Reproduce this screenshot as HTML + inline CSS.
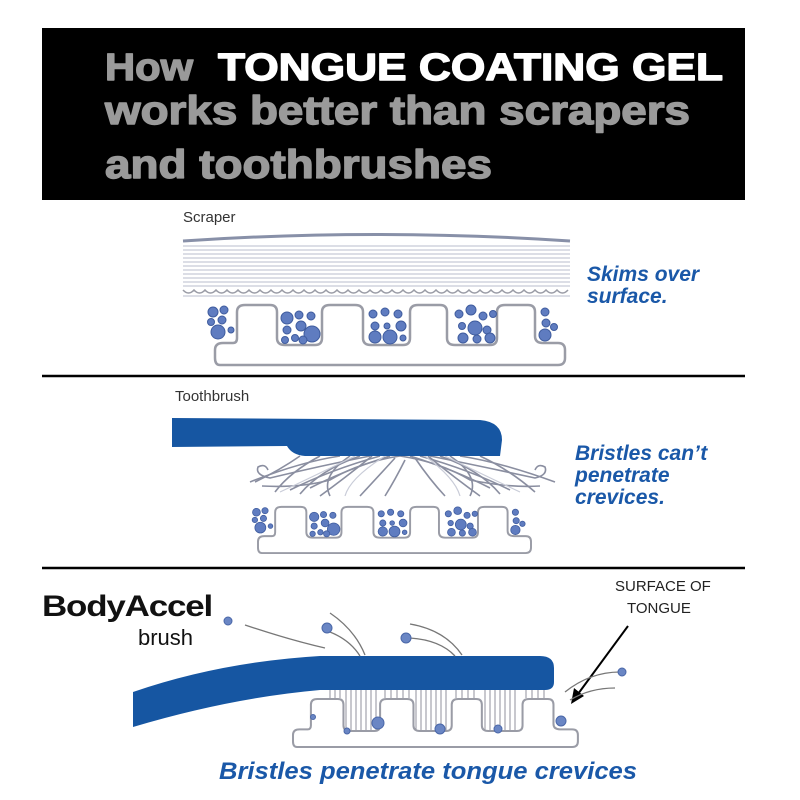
<!DOCTYPE html>
<html><head><meta charset="utf-8"><style>html,body{margin:0;padding:0;background:#fff}svg{display:block}</style></head>
<body>
<svg width="800" height="800" viewBox="0 0 800 800" xmlns="http://www.w3.org/2000/svg" font-family="Liberation Sans, sans-serif">
<defs>
<path id="tg" d="M5,65 Q0,65 0,58 L0,50 Q0,43 8,43 L18,43 Q22,43 22,38 L22,12 Q22,5 30,5 L55,5 Q62,5 62,12 L62,38 Q62,45 70,45 L100,45 Q107,45 107,38 L107,12 Q107,5 115,5 L140,5 Q148,5 148,12 L148,38 Q148,45 156,45 L188,45 Q195,45 195,38 L195,12 Q195,5 203,5 L225,5 Q232,5 232,12 L232,38 Q232,45 240,45 L275,45 Q282,45 282,38 L282,12 Q282,5 290,5 L313,5 Q320,5 320,12 L320,36 Q320,43 328,43 L343,43 Q350,43 350,50 L350,58 Q350,65 343,65 Z" fill="#fff" stroke="#9a9ca6" stroke-width="2.5"/>
<g id="dots" fill="#5f7cc0" stroke="#3f5c9e" stroke-width="1">
<circle cx="-2" cy="12" r="5"/><circle cx="9" cy="10" r="4"/><circle cx="-4" cy="22" r="3.5"/><circle cx="7" cy="20" r="4"/><circle cx="3" cy="32" r="7"/><circle cx="16" cy="30" r="3"/>
<circle cx="72" cy="18" r="6"/><circle cx="84" cy="15" r="4"/><circle cx="96" cy="16" r="4"/><circle cx="72" cy="30" r="4"/><circle cx="86" cy="26" r="5"/><circle cx="97" cy="34" r="8"/><circle cx="80" cy="38" r="3.5"/><circle cx="70" cy="40" r="3.5"/><circle cx="88" cy="40" r="4"/>
<circle cx="158" cy="14" r="4"/><circle cx="170" cy="12" r="4"/><circle cx="183" cy="14" r="4"/><circle cx="160" cy="26" r="4"/><circle cx="172" cy="26" r="3"/><circle cx="186" cy="26" r="5"/><circle cx="160" cy="37" r="6"/><circle cx="175" cy="37" r="7"/><circle cx="188" cy="38" r="3"/>
<circle cx="244" cy="14" r="4"/><circle cx="256" cy="10" r="5"/><circle cx="268" cy="16" r="4"/><circle cx="278" cy="14" r="3.5"/><circle cx="247" cy="26" r="3.5"/><circle cx="260" cy="28" r="7"/><circle cx="272" cy="30" r="4"/><circle cx="248" cy="38" r="5"/><circle cx="262" cy="39" r="4"/><circle cx="275" cy="38" r="5"/>
<circle cx="330" cy="12" r="4"/><circle cx="331" cy="23" r="4"/><circle cx="339" cy="27" r="3.5"/><circle cx="330" cy="35" r="6"/>
</g>
</defs>
<rect x="42" y="28" width="703" height="172" fill="#000"/>
<g font-weight="bold" stroke-width="1.4" stroke-linejoin="round">
<text x="105" y="80" font-size="38" fill="#9a9a9a" stroke="#9a9a9a" textLength="88" lengthAdjust="spacingAndGlyphs">How</text>
<text x="218" y="80" font-size="38" fill="#fff" stroke="#fff" textLength="505" lengthAdjust="spacingAndGlyphs">TONGUE COATING GEL</text>
<text x="105" y="124" font-size="40" fill="#9a9a9a" stroke="#9a9a9a" textLength="585" lengthAdjust="spacingAndGlyphs">works better than scrapers</text>
<text x="105" y="178" font-size="40" fill="#9a9a9a" stroke="#9a9a9a" textLength="387" lengthAdjust="spacingAndGlyphs">and toothbrushes</text>
</g>

<line x1="42" y1="376" x2="745" y2="376" stroke="#000" stroke-width="2.5"/>
<line x1="42" y1="568" x2="745" y2="568" stroke="#000" stroke-width="2.5"/>

<!-- Scraper -->
<text x="183" y="222" font-size="15" fill="#333">Scraper</text>
<path d="M183,241 Q376,228 570,241" fill="none" stroke="#8890a8" stroke-width="3"/>
<g stroke="#b9bdcc" stroke-width="1">
<line x1="183" y1="246" x2="570" y2="246"/><line x1="183" y1="250" x2="570" y2="250"/><line x1="183" y1="254" x2="570" y2="254"/><line x1="183" y1="258" x2="570" y2="258"/><line x1="183" y1="262" x2="570" y2="262"/><line x1="183" y1="266" x2="570" y2="266"/><line x1="183" y1="270" x2="570" y2="270"/><line x1="183" y1="274" x2="570" y2="274"/><line x1="183" y1="278" x2="570" y2="278"/><line x1="183" y1="282" x2="570" y2="282"/><line x1="183" y1="286" x2="570" y2="286"/><line x1="183" y1="296" x2="570" y2="296"/>
</g>
<path d="M183,290 q5.5,6 11,0 q5.5,6 11,0 q5.5,6 11,0 q5.5,6 11,0 q5.5,6 11,0 q5.5,6 11,0 q5.5,6 11,0 q5.5,6 11,0 q5.5,6 11,0 q5.5,6 11,0 q5.5,6 11,0 q5.5,6 11,0 q5.5,6 11,0 q5.5,6 11,0 q5.5,6 11,0 q5.5,6 11,0 q5.5,6 11,0 q5.5,6 11,0 q5.5,6 11,0 q5.5,6 11,0 q5.5,6 11,0 q5.5,6 11,0 q5.5,6 11,0 q5.5,6 11,0 q5.5,6 11,0 q5.5,6 11,0 q5.5,6 11,0 q5.5,6 11,0 q5.5,6 11,0 q5.5,6 11,0 q5.5,6 11,0 q5.5,6 11,0 q5.5,6 11,0 q5.5,6 11,0 q5.5,6 11,0" fill="none" stroke="#9a9ca6" stroke-width="1.5"/>
<g transform="translate(215,300)"><use href="#tg"/><use href="#dots"/></g>
<text x="587" y="281" font-size="21" font-weight="bold" font-style="italic" fill="#1a58a8">Skims over</text>
<text x="587" y="303" font-size="21" font-weight="bold" font-style="italic" fill="#1a58a8">surface.</text>

<!-- Toothbrush -->
<text x="175" y="401" font-size="15" fill="#333">Toothbrush</text>
<g fill="none" stroke="#8a8ea0" stroke-width="1.6">
<path d="M400,456 Q360,462 330,480 Q300,488 262,486"/><path d="M390,456 Q345,470 310,488"/><path d="M380,456 Q330,470 290,490"/><path d="M370,456 Q320,466 270,478 Q255,475 258,467 Q265,463 268,470"/><path d="M360,456 Q320,470 300,494"/><path d="M350,456 Q320,476 330,496"/><path d="M395,458 Q375,480 360,496"/><path d="M405,460 Q395,480 385,496"/><path d="M340,456 Q300,462 250,482"/>
<path d="M300,456 Q280,470 255,482"/><path d="M320,456 Q290,472 275,492"/><path d="M372,456 Q345,478 320,496"/>
<path d="M400,456 Q440,462 470,480 Q510,488 540,486"/><path d="M410,456 Q455,470 490,488"/><path d="M420,456 Q470,470 510,490"/><path d="M430,456 Q480,466 535,478 Q548,475 545,467 Q538,463 535,470"/><path d="M440,456 Q480,470 500,494"/><path d="M450,456 Q480,476 470,496"/><path d="M415,458 Q430,480 445,496"/><path d="M460,456 Q500,462 555,482"/>
<path d="M480,456 Q510,470 535,492"/><path d="M428,456 Q455,478 480,496"/>
</g>
<g stroke="#c9ccd8" stroke-width="1.2" fill="none"><path d="M385,456 Q350,478 345,496"/><path d="M425,456 Q455,478 460,496"/><path d="M355,456 Q310,478 280,492"/><path d="M445,456 Q490,478 520,492"/></g>
<path d="M172,418 L480,420 Q502,422 502,440 L500,456 L305,456 Q292,455 287,446 L172,447 Z" fill="#1656a2"/>
<g transform="translate(258,503) scale(0.78,0.77)"><use href="#tg"/><use href="#dots"/></g>
<text x="575" y="460" font-size="21" font-weight="bold" font-style="italic" fill="#1a58a8">Bristles can’t</text>
<text x="575" y="482" font-size="21" font-weight="bold" font-style="italic" fill="#1a58a8">penetrate</text>
<text x="575" y="504" font-size="21" font-weight="bold" font-style="italic" fill="#1a58a8">crevices.</text>

<!-- BodyAccel -->
<text x="42" y="616" font-size="30" font-weight="bold" fill="#111" textLength="170" lengthAdjust="spacingAndGlyphs" letter-spacing="-1">BodyAccel</text>
<text x="138" y="645" font-size="22" fill="#111">brush</text>
<text x="615" y="591" font-size="15" fill="#222">SURFACE OF</text>
<text x="627" y="613" font-size="15" fill="#222">TONGUE</text>
<line x1="628" y1="626" x2="578" y2="694" stroke="#000" stroke-width="2"/>
<path d="M571,704 L574,688 L584,696 Z" fill="#000"/>
<g transform="translate(293,695) scale(0.814,0.8)"><use href="#tg"/></g>
<g stroke="#9a9ca6" stroke-width="1.1">
<line x1="330" y1="690" x2="330" y2="698"/><line x1="335" y1="690" x2="335" y2="698"/><line x1="340" y1="690" x2="340" y2="698"/>
<line x1="346" y1="690" x2="346" y2="731"/><line x1="351" y1="690" x2="351" y2="731"/><line x1="356" y1="690" x2="356" y2="731"/><line x1="361" y1="690" x2="361" y2="731"/><line x1="366" y1="690" x2="366" y2="731"/><line x1="371" y1="690" x2="371" y2="731"/><line x1="376" y1="690" x2="376" y2="731"/>
<line x1="385" y1="690" x2="385" y2="698"/><line x1="391" y1="690" x2="391" y2="698"/><line x1="397" y1="690" x2="397" y2="698"/><line x1="403" y1="690" x2="403" y2="698"/><line x1="409" y1="690" x2="409" y2="698"/>
<line x1="416" y1="690" x2="416" y2="731"/><line x1="421" y1="690" x2="421" y2="731"/><line x1="426" y1="690" x2="426" y2="731"/><line x1="431" y1="690" x2="431" y2="731"/><line x1="436" y1="690" x2="436" y2="731"/><line x1="441" y1="690" x2="441" y2="731"/><line x1="446" y1="690" x2="446" y2="731"/>
<line x1="456" y1="690" x2="456" y2="698"/><line x1="462" y1="690" x2="462" y2="698"/><line x1="468" y1="690" x2="468" y2="698"/><line x1="474" y1="690" x2="474" y2="698"/>
<line x1="485" y1="690" x2="485" y2="731"/><line x1="490" y1="690" x2="490" y2="731"/><line x1="495" y1="690" x2="495" y2="731"/><line x1="500" y1="690" x2="500" y2="731"/><line x1="505" y1="690" x2="505" y2="731"/><line x1="510" y1="690" x2="510" y2="731"/><line x1="515" y1="690" x2="515" y2="731"/>
<line x1="526" y1="690" x2="526" y2="698"/><line x1="532" y1="690" x2="532" y2="698"/><line x1="538" y1="690" x2="538" y2="698"/><line x1="544" y1="690" x2="544" y2="698"/>
</g>
<path d="M133,692 Q220,662 320,656 L540,656 Q554,656 554,668 L554,682 Q554,690 545,690 L320,690 Q230,698 133,727 Z" fill="#1656a2"/>
<g fill="none" stroke="#777" stroke-width="1.3">
<path d="M245,625 Q290,640 325,648"/><path d="M330,632 Q350,640 360,656"/><path d="M330,613 Q355,630 365,655"/><path d="M410,638 Q440,640 455,656"/><path d="M410,624 Q445,630 462,655"/><path d="M620,672 Q590,672 565,692"/><path d="M615,688 Q590,688 570,700"/>
</g>
<g fill="#6a86c4" stroke="#4a67a8" stroke-width="1">
<circle cx="228" cy="621" r="4"/><circle cx="327" cy="628" r="5"/><circle cx="406" cy="638" r="5"/><circle cx="622" cy="672" r="4"/>
<circle cx="347" cy="731" r="3"/><circle cx="378" cy="723" r="6"/><circle cx="440" cy="729" r="5"/><circle cx="498" cy="729" r="4"/><circle cx="561" cy="721" r="5"/><circle cx="313" cy="717" r="2.5"/>
</g>
<text x="219" y="779" font-size="24" font-weight="bold" font-style="italic" fill="#1a58a8" textLength="418" lengthAdjust="spacingAndGlyphs">Bristles penetrate tongue crevices</text>
</svg>
</body></html>
